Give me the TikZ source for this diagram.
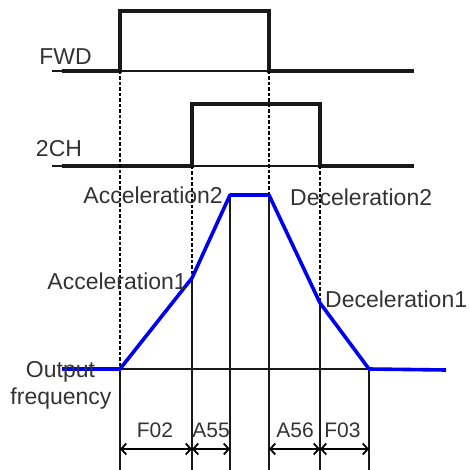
\documentclass[tikz,border=0pt]{standalone}
\usepackage{fontspec}
\setmainfont{Liberation Sans}
\usetikzlibrary{arrows.meta, calc}

\begin{document}
\begin{tikzpicture}[
    x=1pt, y=-1pt,
    every node/.style={font=\fontsize{23}{27}\selectfont, text=labelcolor,
                       inner sep=0pt},
]

% ---------------------------------------------------------------- colours
\definecolor{labelcolor}{HTML}{333333}   % all the texts
\definecolor{freqblue}{HTML}{0000F0}     % the output frequency

% ---------------------------------------------------------------- styles
\tikzset{
    sig/.style={line width=3.2pt, black!90},
    thinline/.style={line width=1.6pt, black!90},
    guide/.style={line width=2.6pt, black, dash pattern=on 3.5pt off 2pt},
    stem/.style={line width=2pt, black!90},
    freq/.style={freqblue, line width=3.6pt, line join=round},
    dimline/.style={line width=1.8pt,
                    {Straight Barb[length=5pt, width=11pt]}-{Straight Barb[length=5pt, width=11pt]}},
    dimlabel/.style={font=\fontsize{21}{25}\selectfont, anchor=base},
}

\useasboundingbox (0,0) rectangle (469,470);

% ================================================================
% Pixel coordinates, y grows downwards. The six time marks are at
% x = 120, 192, 230, 269, 320, 369.
% ================================================================

\coordinate (fwdOn)  at (120, 71);
\coordinate (fwdOff) at (269, 71);
\coordinate (chOn)   at (192,166);
\coordinate (chOff)  at (320,166);
\coordinate (out0)   at (120,369);
\coordinate (acc1)   at (192,278);
\coordinate (acc2)   at (230,195);
\coordinate (dec2)   at (269,195);
\coordinate (dec1)   at (320,303);
\coordinate (out1)   at (369,369);
\coordinate (bot)    at (0,470);
\coordinate (dim)    at (0,449);

% ----------------------------------------------------------------------
% FWD and 2CH
% ----------------------------------------------------------------------
\node[anchor=base] (fwdlbl) at (65.5, 65) {FWD};
\draw[thinline] (52,71) -- (414,71);
\draw[sig] (62,71) -- (fwdOn) -- (120,11) -- (269,11) -- (fwdOff) -- (414,71);

\node[anchor=base] (chlbl) at (59, 157) {2CH};
\draw[thinline] (52,166) -- (414,166);
\draw[sig] (62,166) -- (chOn) -- (192,104) -- (320,104) -- (chOff) -- (414,166);

% dotted guides down to the frequency curve
\draw[guide] (fwdOn)  -- (out0);
\draw[guide] (chOn)   -- (acc1);
\draw[guide] (fwdOff) -- (dec2);
\draw[guide] (chOff)  -- (dec1);

% ----------------------------------------------------------------------
% output frequency
% ----------------------------------------------------------------------
\foreach \p in {out0, acc1, acc2, dec2, dec1, out1}
    \draw[stem] (\p) -- (\p |- bot);
\draw[thinline] (out0) -- (out1);

\draw[freq] (62,369) -- (out0) -- (acc1) -- (acc2) -- (dec2) -- (dec1)
    -- (out1) -- (446,370);

\node[anchor=base east] (acc2lbl) at (223, 203) {Acceleration2};
\node[anchor=base east] (acc1lbl) at (187, 289) {Acceleration1};
\node[anchor=base west] (dec2lbl) at (290, 205) {Deceleration2};
\node[anchor=base west] (dec1lbl) at (325, 307) {Deceleration1};
\node[anchor=base] (outlbl)  at (60.5, 377) {Output};
\node[anchor=base] (freqlbl) at (61, 404) {frequency};

% ----------------------------------------------------------------------
% times
% ----------------------------------------------------------------------
\draw[dimline] (out0 |- dim) -- (acc1 |- dim);
\draw[dimline] (acc1 |- dim) -- (acc2 |- dim);
\draw[dimline] (dec2 |- dim) -- (dec1 |- dim);
\draw[dimline] (dec1 |- dim) -- (out1 |- dim);

\node[dimlabel] (f02) at (155, 437) {F02};
\node[dimlabel] (a55) at (211, 437) {A55};
\node[dimlabel] (a56) at (295, 437) {A56};
\node[dimlabel] (f03) at (342.5, 437) {F03};

\end{tikzpicture}
\end{document}
